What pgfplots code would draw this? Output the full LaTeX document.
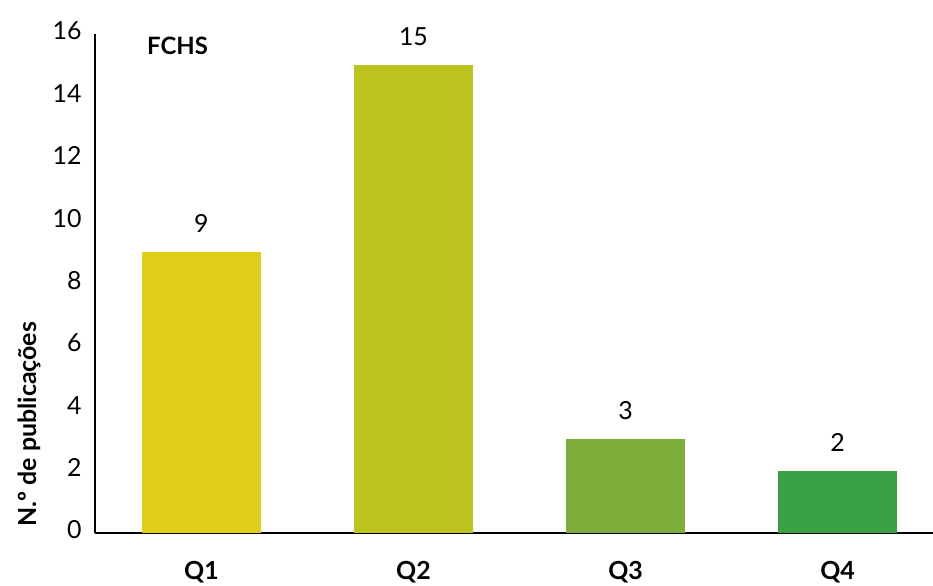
\documentclass[border=0pt]{standalone}
\usepackage{pgfplots}
\pgfplotsset{compat=1.18}
\usepackage{fontspec}
\setmainfont{Lato}
\definecolor{cqa}{HTML}{DFCF1B}
\definecolor{cqb}{HTML}{BEC41F}
\definecolor{cqc}{HTML}{7EAE39}
\definecolor{cqd}{HTML}{39A044}
\begin{document}
\begin{tikzpicture}
\path[use as bounding box] (0,0) rectangle (933bp,586bp);
\begin{axis}[
  at={(95bp,53bp)}, anchor=south west,
  width=838bp, height=499bp, scale only axis,
  xmin=-0.502, xmax=3.45, ymin=0, ymax=16,
  axis x line=bottom, axis y line=left,
  axis line style={-, line width=1.8bp, black},
  xtick={0,1,2,3}, xticklabels={Q1,Q2,Q3,Q4},
  ytick={0,2,...,16},
  major tick length=0pt,
  /pgf/number format/assume math mode=true,
  yticklabel style={font=\fontsize{25}{28}\selectfont, xshift=-10bp, yshift=3bp},
  xticklabel style={font=\fontsize{25}{28}\selectfont\bfseries, yshift=-25bp},
  ybar, bar width=119bp,
  nodes near coords,
  every node near coord/.append style={font=\fontsize{25}{28}\selectfont, yshift=16bp, black},
  clip=false,
]
\addplot[draw=none, fill=cqa, bar shift=0pt] coordinates {(0,9)};
\addplot[draw=none, fill=cqb, bar shift=0pt] coordinates {(1,15)};
\addplot[draw=none, fill=cqc, bar shift=0pt] coordinates {(2,3)};
\addplot[draw=none, fill=cqd, bar shift=0pt] coordinates {(3,2)};
\node[font=\fontsize{24}{27}\selectfont\bfseries, anchor=west] at (rel axis cs:0.058,0.977) {FCHS};
\node[font=\fontsize{25}{28}\selectfont\bfseries, rotate=90] at (rel axis cs:-0.078,0.218) {N.º de publicações};
\end{axis}
\end{tikzpicture}
\end{document}
